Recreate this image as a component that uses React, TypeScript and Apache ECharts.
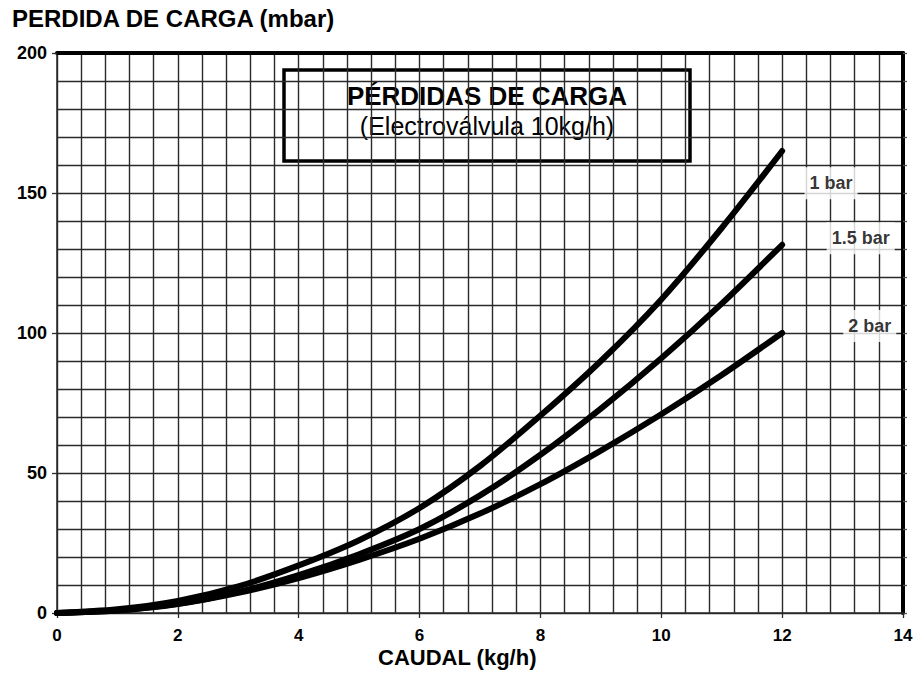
import React, { useEffect, useRef } from 'react';
import * as echarts from 'echarts';

// Caudal (kg/h) sample points
const caudal = [0, 1, 2, 3, 4, 5, 6, 7, 8, 9, 10, 11, 12];
// Pérdida de carga (mbar) per inlet pressure
const bar1 = [0, 1.3, 4.3, 9.5, 17, 26, 37.5, 52.5, 70.5, 90, 112, 137.5, 165];
const bar15 = [0, 1, 3.3, 7.5, 13.5, 21, 30, 42, 56.5, 73, 91, 110.5, 131.5];
const bar2 = [0, 0.9, 3.2, 7.2, 12.5, 19, 26.5, 35.5, 46, 58, 71, 85, 100];
const curveNames = ['1 bar', '1.5 bar', '2 bar'];
const xTicks = [0, 2, 4, 6, 8, 10, 12, 14];
const yTicks = [0, 50, 100, 150, 200];

const FONT = '"Liberation Sans", Arial, Helvetica, sans-serif';

export default function App() {
  const ref = useRef<HTMLDivElement>(null);

  useEffect(() => {
    const chart = echarts.init(ref.current!, null, { renderer: 'svg' });
    const gridColor = '#2a2a2a';
    const toPairs = (ys: number[]) => caudal.map((x, i) => [x, ys[i]]);
    const lineSeries = (name: string, ys: number[]) => ({
      name,
      type: 'line',
      data: toPairs(ys),
      smooth: 0.3,
      symbol: 'none',
      lineStyle: { color: '#000', width: 6, cap: 'round' },
      z: 5,
    });

    chart.setOption({
      animation: false,
      backgroundColor: '#fff',
      grid: { left: 57, right: 14, top: 53, bottom: 67 },
      title: [
        {
          text: 'PERDIDA DE CARGA (mbar)',
          left: 12,
          top: 6,
          padding: 0,
          textStyle: { fontFamily: FONT, fontWeight: 'bold', fontSize: 24, color: '#000' },
        },
        {
          text: 'CAUDAL (kg/h)',
          left: 378,
          top: 646,
          padding: 0,
          textStyle: { fontFamily: FONT, fontWeight: 'bold', fontSize: 22, color: '#000' },
        },
      ],
      xAxis: [
        {
          type: 'value',
          min: xTicks[0],
          max: xTicks[xTicks.length - 1],
          interval: 2,
          position: 'bottom',
          axisLine: { show: true, onZero: false, lineStyle: { color: gridColor, width: 1.5 } },
          axisTick: { show: true, length: 5, lineStyle: { color: gridColor, width: 1.3 } },
          axisLabel: { margin: 14, fontSize: 17, fontWeight: 'bold', color: '#000', fontFamily: FONT },
          splitLine: { show: true, lineStyle: { color: gridColor, width: 1.4 } },
          minorTick: { show: false, splitNumber: 5 },
          minorSplitLine: { show: true, lineStyle: { color: gridColor, width: 1.4 } },
        },
        {
          type: 'value',
          min: xTicks[0],
          max: xTicks[xTicks.length - 1],
          position: 'top',
          axisLine: { show: true, onZero: false, lineStyle: { color: '#000', width: 4 } },
          axisTick: { show: false },
          axisLabel: { show: false },
          splitLine: { show: false },
        },
      ],
      yAxis: [
        {
          type: 'value',
          min: yTicks[0],
          max: yTicks[yTicks.length - 1],
          interval: 50,
          position: 'left',
          axisLine: { show: true, onZero: false, lineStyle: { color: gridColor, width: 1.5 } },
          axisTick: { show: true, length: 5, lineStyle: { color: gridColor, width: 1.3 } },
          axisLabel: { margin: 10, fontSize: 18, fontWeight: 'bold', color: '#000', fontFamily: FONT },
          splitLine: { show: true, lineStyle: { color: gridColor, width: 1.4 } },
          minorTick: { show: false, splitNumber: 5 },
          minorSplitLine: { show: true, lineStyle: { color: gridColor, width: 1.4 } },
        },
        {
          type: 'value',
          min: yTicks[0],
          max: yTicks[yTicks.length - 1],
          interval: 10,
          position: 'right',
          axisLine: { show: true, onZero: false, lineStyle: { color: '#000', width: 4 } },
          axisTick: { show: true, length: 4, lineStyle: { color: '#555', width: 1.3 } },
          axisLabel: { show: false },
          splitLine: { show: false },
        },
      ],
      series: [
        lineSeries(curveNames[0], bar1),
        lineSeries(curveNames[1], bar15),
        lineSeries(curveNames[2], bar2),
        {
          type: 'scatter',
          symbolSize: 1,
          itemStyle: { color: 'rgba(0,0,0,0)' },
          z: 6,
          data: [
            { name: curveNames[0], value: [12.81, 153.5] },
            { name: curveNames[1], value: [13.3, 133.8] },
            { name: curveNames[2], value: [13.45, 102.5] },
          ],
          label: {
            show: true,
            position: 'inside',
            formatter: '{b}',
            fontFamily: FONT,
            fontWeight: 'bold',
            fontSize: 18,
            color: '#000',
            backgroundColor: '#fff',
            padding: [7, 5, 7, 5],
          },
        },
      ],
      graphic: [
        {
          type: 'group',
          z: 20,
          children: [
            {
              type: 'rect',
              shape: { x: 284, y: 70, width: 406, height: 91 },
              style: { fill: '#fff', stroke: '#000', lineWidth: 3.5 },
            },
            {
              type: 'text',
              x: 487,
              y: 96,
              style: {
                text: 'PÉRDIDAS DE CARGA',
                font: `bold 26px ${FONT}`,
                fill: '#000',
                textAlign: 'center',
                textVerticalAlign: 'middle',
              },
            },
            {
              type: 'text',
              x: 487,
              y: 126,
              style: {
                text: '(Electroválvula 10kg/h)',
                font: `25px ${FONT}`,
                fill: '#000',
                textAlign: 'center',
                textVerticalAlign: 'middle',
              },
            },
          ],
        },
      ],
    });

    return () => chart.dispose();
  }, []);

  return (
    <div
      ref={ref}
      style={{ position: 'absolute', left: 0, top: 0, width: 917, height: 680, background: '#fff' }}
    />
  );
}
